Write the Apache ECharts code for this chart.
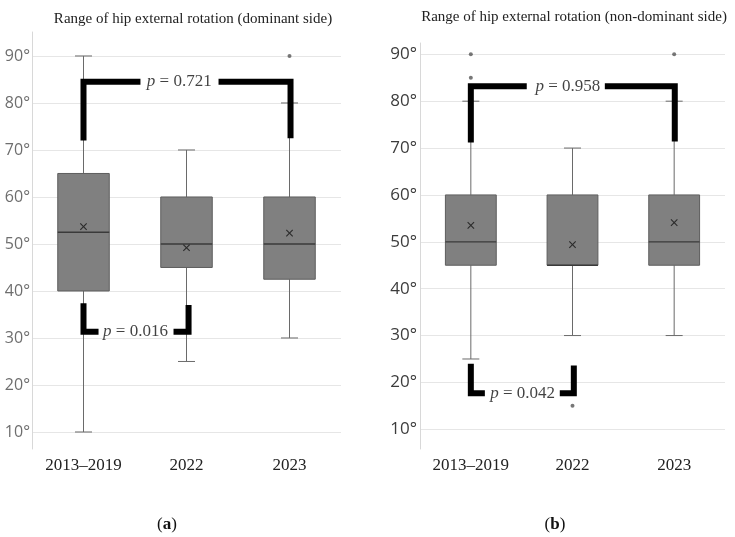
<!DOCTYPE html>
<html><head><meta charset="utf-8">
<script src="https://cdn.jsdelivr.net/npm/echarts@6/dist/echarts.min.js"></script>
<style>html,body{margin:0;padding:0;background:#fff}#c{width:735px;height:537px}</style>
</head><body><div id="c"></div>
<script>
const categories = ['2013–2019', '2022', '2023'];
const yTicks = [10, 20, 30, 40, 50, 60, 70, 80, 90];
// box values per category: [min, Q1, median, Q3, max]
const domBox = [[10, 40, 52.5, 65, 90], [25, 45, 50, 60, 70], [30, 42.5, 50, 60, 80]];
const domMean = [53.7, 49.2, 52.3];
const domOutliers = [[2, 90]];
const nonBox = [[25, 45, 50, 60, 80], [30, 45, 45, 60, 70], [30, 45, 50, 60, 80]];
const nonMean = [53.5, 49.4, 54.1];
const nonOutliers = [[0, 90], [0, 85], [1, 15], [2, 90]];
// significance brackets: x in category-index units, y in degrees
const domTopLeft = [[0, 72], [0, 84.5], [0.553, 84.5]];
const domTopRight = [[1.311, 84.5], [2.01, 84.5], [2.01, 72.5]];
const domTopLabel = [0.93, 84.5, '0.721'];
const domBotLeft = [[0, 37.4], [0, 31.3], [0.146, 31.3]];
const domBotRight = [[0.874, 31.3], [1.02, 31.3], [1.02, 37]];
const domBotLabel = [0.505, 31.3, '0.016'];
const nonTopLeft = [[0, 71.2], [0, 83.2], [0.55, 83.2]];
const nonTopRight = [[1.318, 83.2], [2.006, 83.2], [2.006, 71.4]];
const nonTopLabel = [0.954, 83.2, '0.958'];
const nonBotLeft = [[0, 24], [0, 17.7], [0.138, 17.7]];
const nonBotRight = [[0.875, 17.7], [1.013, 17.7], [1.013, 23.6]];
const nonBotLabel = [0.51, 17.7, '0.042'];

const chart = echarts.init(document.getElementById('c'));
const serif = 'Liberation Serif';

function boxRender(params, api) {
  const c = api.value(0);
  const v = [1, 2, 3, 4, 5].map(i => api.value(i));
  const mean = api.value(6);
  const w = api.size([1, 0])[0] * 0.5;
  const capW = 17;
  const p = v.map(val => api.coord([c, val]));
  const pm = api.coord([c, mean]);
  const x = p[0][0];
  const ls = { stroke: '#6a6a6a', lineWidth: 1 };
  const m = 3.2;
  const ms = { stroke: '#2a2a2a', lineWidth: 1.1 };
  return {
    type: 'group',
    children: [
      { type: 'line', shape: { x1: x, y1: p[3][1], x2: x, y2: p[4][1] }, style: ls },
      { type: 'line', shape: { x1: x, y1: p[1][1], x2: x, y2: p[0][1] }, style: ls },
      { type: 'line', shape: { x1: x - capW / 2, y1: p[4][1], x2: x + capW / 2, y2: p[4][1] }, style: ls },
      { type: 'line', shape: { x1: x - capW / 2, y1: p[0][1], x2: x + capW / 2, y2: p[0][1] }, style: ls },
      { type: 'rect', shape: { x: x - w / 2, y: p[3][1], width: w, height: p[1][1] - p[3][1] }, style: { fill: '#808080', stroke: '#5e5e5e', lineWidth: 1 } },
      { type: 'line', shape: { x1: x - w / 2, y1: p[2][1], x2: x + w / 2, y2: p[2][1] }, style: { stroke: '#3a3a3a', lineWidth: 1.3 } },
      { type: 'line', shape: { x1: pm[0] - m, y1: pm[1] - m, x2: pm[0] + m, y2: pm[1] + m }, style: ms },
      { type: 'line', shape: { x1: pm[0] - m, y1: pm[1] + m, x2: pm[0] + m, y2: pm[1] - m }, style: ms }
    ]
  };
}

function yAxisCfg(grid, min, max, color, size, margin) {
  return {
    gridIndex: grid, type: 'value', min: min, max: max,
    axisLine: { show: true, onZero: false, lineStyle: { color: '#d8d8d8', width: 1 } },
    axisTick: { show: false, customValues: yTicks },
    axisLabel: { customValues: yTicks, formatter: v => v + '°', color: color, fontSize: size, fontFamily: 'Open Sans', margin: margin },
    splitLine: { show: true, lineStyle: { color: '#e6e6e6', width: 1 } }
  };
}
function catAxis(grid) {
  return {
    gridIndex: grid, type: 'category', data: categories, boundaryGap: true,
    axisLine: { show: false, onZero: false }, axisTick: { show: false },
    axisLabel: { color: '#222', fontSize: 17, fontFamily: serif, margin: 8 },
    splitLine: { show: false }
  };
}
function valX(grid) {
  return { gridIndex: grid, type: 'value', min: -0.5, max: 2.5, show: false, axisLine: { onZero: false } };
}
function bracket(data, xi, yi) {
  return {
    type: 'line', xAxisIndex: xi, yAxisIndex: yi, data: data, symbol: 'none', silent: true, z: 10,
    lineStyle: { color: '#000', width: 6, cap: 'butt', join: 'miter' }
  };
}
function pLabel(lab, xi, yi) {
  return {
    type: 'scatter', xAxisIndex: xi, yAxisIndex: yi, data: [[lab[0], lab[1], lab[2]]], symbolSize: 1,
    itemStyle: { color: 'rgba(0,0,0,0)' }, silent: true, z: 11,
    label: {
      show: true, position: 'inside', formatter: d => '{i|p} = ' + d.value[2],
      fontFamily: serif, fontSize: 17, color: '#111',
      rich: { i: { fontStyle: 'italic', fontFamily: serif, fontSize: 17, color: '#111' } }
    }
  };
}
function boxSeries(box, mean, xi, yi) {
  return {
    type: 'custom', xAxisIndex: xi, yAxisIndex: yi, renderItem: boxRender,
    encode: { x: 0, y: [1, 2, 3, 4, 5] }, clip: false, z: 2,
    data: box.map((b, i) => [i].concat(b, [mean[i]]))
  };
}
function outSeries(d, xi, yi) {
  return { type: 'scatter', xAxisIndex: xi, yAxisIndex: yi, data: d, symbolSize: 4, itemStyle: { color: '#555' }, z: 3 };
}

chart.setOption({
  animation: false,
  backgroundColor: '#fff',
  title: [
    { text: 'Range of hip external rotation (dominant side)', left: 188, top: 7, textAlign: 'center',
      textStyle: { fontFamily: serif, fontSize: 15, fontWeight: 'normal', color: '#222' } },
    { text: 'Range of hip external rotation (non-dominant side)', left: 569, top: 5, textAlign: 'center',
      textStyle: { fontFamily: serif, fontSize: 15, fontWeight: 'normal', color: '#222' } },
    { text: '({b|a})', left: 162, top: 511, textAlign: 'center',
      textStyle: { fontFamily: serif, fontSize: 17, fontWeight: 'normal', color: '#111', rich: { b: { fontFamily: serif, fontSize: 17, fontWeight: 'bold', color: '#111' } } } },
    { text: '({b|b})', left: 550, top: 511, textAlign: 'center',
      textStyle: { fontFamily: serif, fontSize: 17, fontWeight: 'normal', color: '#111', rich: { b: { fontFamily: serif, fontSize: 17, fontWeight: 'bold', color: '#111' } } } }
  ],
  grid: [
    { left: 32, right: 394, top: 32, bottom: 88 },
    { left: 420, right: 10, top: 43, bottom: 88 }
  ],
  xAxis: [catAxis(0), catAxis(1), valX(0), valX(1)],
  yAxis: [yAxisCfg(0, 6.38, 95.1, '#6e6e6e', 16, 2), yAxisCfg(1, 5.8, 92.41, '#3c3c3c', 17, 3)],
  series: [
    boxSeries(domBox, domMean, 0, 0),
    outSeries(domOutliers, 0, 0),
    boxSeries(nonBox, nonMean, 1, 1),
    outSeries(nonOutliers, 1, 1),
    bracket(domTopLeft, 2, 0), bracket(domTopRight, 2, 0),
    bracket(domBotLeft, 2, 0), bracket(domBotRight, 2, 0),
    bracket(nonTopLeft, 3, 1), bracket(nonTopRight, 3, 1),
    bracket(nonBotLeft, 3, 1), bracket(nonBotRight, 3, 1),
    pLabel(domTopLabel, 2, 0), pLabel(domBotLabel, 2, 0),
    pLabel(nonTopLabel, 3, 1), pLabel(nonBotLabel, 3, 1)
  ]
});
</script>
</body></html>
